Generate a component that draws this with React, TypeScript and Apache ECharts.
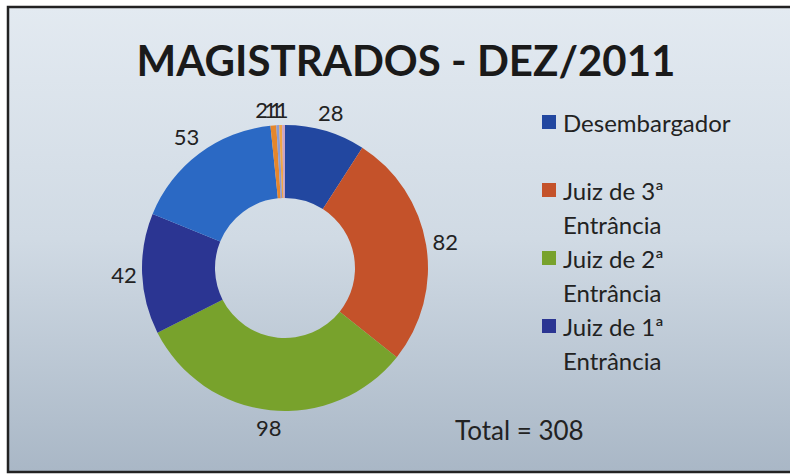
import React, { useEffect, useRef } from "react";
import * as echarts from "echarts";

const titleText = "MAGISTRADOS - DEZ/2011";
const categories = [
  "Desembargador",
  "Juiz de 3ª Entrância",
  "Juiz de 2ª Entrância",
  "Juiz de 1ª Entrância",
  "Juiz Substituto",
  "Juiz Auxiliar",
  "Juiz Convocado",
  "Juiz Temporário",
  "Outros",
];
const values = [28, 82, 98, 42, 53, 2, 1, 1, 1];
const colors = ["#2247a0", "#c4522a", "#78a22c", "#2b3592", "#2b69c4", "#e5862c", "#8b9bd2", "#f0a545", "#c9a3c4"];
const legendNames = categories.slice(0, 4);
const totalText = "Total = 308";

const PIE_CX = 285;
const PIE_CY = 268;

export default function App() {
  const ref = useRef<HTMLDivElement>(null);
  useEffect(() => {
    if (!ref.current) return;
    const chart = echarts.init(ref.current, null, { renderer: "svg" });
    chart.setOption({
      animation: false,
      backgroundColor: "#ffffff",
      graphic: [
        {
          type: "rect",
          z: -10,
          silent: true,
          shape: { x: 8, y: 7, width: 790, height: 465 },
          style: {
            fill: new echarts.graphic.LinearGradient(0, 0, 0, 1, [
              { offset: 0, color: "#e3eaf1" },
              { offset: 0.5, color: "#d0dae4" },
              { offset: 1, color: "#a9b7c6" },
            ]),
            stroke: "#222222",
            lineWidth: 2.5,
          },
        },
        {
          type: "text",
          x: 455,
          y: 430,
          style: {
            text: totalText,
            fontFamily: "Lato",
            fontSize: 26,
            fill: "#222",
            verticalAlign: "middle",
          },
        },
      ],
      title: {
        text: titleText,
        left: 401,
        top: 34,
        textAlign: "center",
        textStyle: { fontFamily: "Lato", fontWeight: "bold", fontSize: 42, color: "#1a1a1a" },
      },
      legend: {
        orient: "vertical",
        left: 542,
        top: 71,
        padding: 0,
        icon: "rect",
        itemWidth: 14,
        itemHeight: 14,
        itemGap: -34,
        data: legendNames,
        formatter: (n: string) => {
          const i = n.indexOf(" Entrância");
          const l1 = i >= 0 ? n.slice(0, i) : n;
          const l2 = i >= 0 ? "Entrância" : " ";
          return " \n" + l1 + "\n" + l2;
        },
        textStyle: { fontFamily: "Lato", fontSize: 24, color: "#222", lineHeight: 34, padding: [0, 0, 0, 2] },
      },
      series: [
        {
          type: "pie",
          center: [PIE_CX, PIE_CY],
          radius: [70, 143],
          startAngle: 90,
          clockwise: true,
          avoidLabelOverlap: false,
          color: colors,
          itemStyle: { borderWidth: 0 },
          label: { show: true, position: "outside", formatter: "{c}", fontFamily: "Lato", fontSize: 22, color: "#222" },
          labelLine: { show: true, length: 10, length2: 0, lineStyle: { width: 0, opacity: 0 } },
          labelLayout: (p: any) => {
            const pts = p.labelLinePoints;
            if (!pts) return {};
            const dx0 = pts[1][0] - pts[0][0];
            const dy0 = pts[1][1] - pts[0][1];
            const len = Math.sqrt(dx0 * dx0 + dy0 * dy0) || 1;
            const dx = dx0 / len;
            const dy = dy0 / len;
            const w = p.labelRect.width;
            const h = p.labelRect.height;
            if (dy < 0 && Math.abs(dx) < 0.12) {
              // tiny slices at the top: spread sideways, packed as in the original
              return {
                x: PIE_CX + (pts[0][0] - PIE_CX) * 2,
                y: pts[0][1] - h / 2 - 5,
                align: "center",
                verticalAlign: "middle",
              };
            }
            const ext = Math.abs(dx) * w / 2 + Math.abs(dy) * h / 2 + 5;
            return {
              x: pts[0][0] + dx * ext,
              y: pts[0][1] + dy * ext,
              align: "center",
              verticalAlign: "middle",
            };
          },
          data: categories.map((c, i) => ({ name: c, value: values[i] })),
        },
      ],
    });
    return () => chart.dispose();
  }, []);
  return <div ref={ref} style={{ position: "fixed", left: 0, top: 0, width: 790, height: 476 }} />;
}
